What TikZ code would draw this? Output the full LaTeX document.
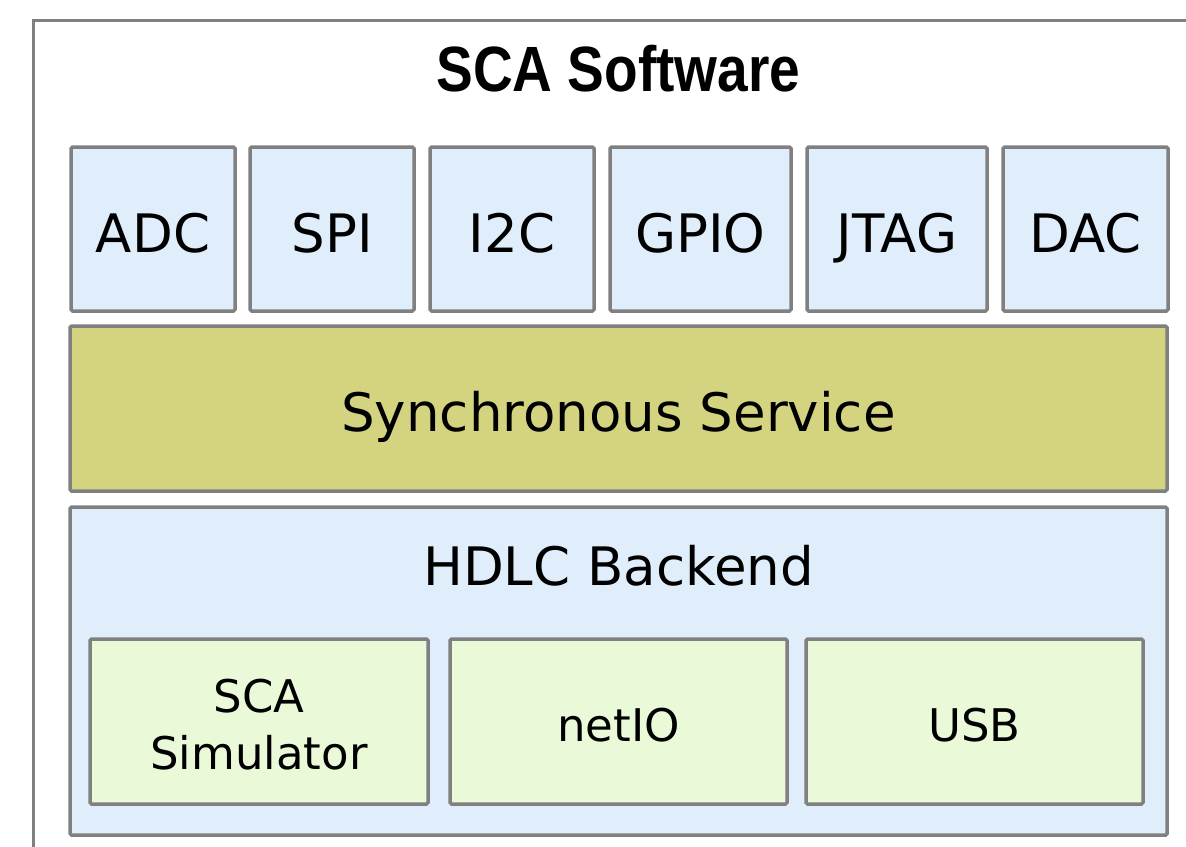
\documentclass[tikz,border=0pt]{standalone}
\usepackage{fontspec}
\setmainfont{DejaVu Sans}
\newfontfamily\titlefont[FakeStretch=0.86]{Liberation Sans}
\definecolor{frame}{HTML}{808080}
\definecolor{paleblue}{HTML}{E0EEFB}
\definecolor{olive}{HTML}{D4D480}
\definecolor{palegreen}{HTML}{EAFAD8}
\tikzset{
  box/.style={draw=frame, line width=3.5pt, rounded corners=1.5pt, inner sep=0pt,
    font=\fontsize{53}{60}\selectfont, text height=46pt, text depth=0pt},
  ifacebox/.style={box, fill=paleblue, minimum height=164pt},
  linkbox/.style={box, fill=palegreen, minimum height=165pt, align=center,
    font=\fontsize{45}{57}\selectfont, text height=39pt},
}
\begin{document}
\begin{tikzpicture}[x=1pt,y=-1pt]
\useasboundingbox (0,0) rectangle (1186,846);
\clip (0,0) rectangle (1186,846);
\fill[white] (0,0) rectangle (1186,846);

% outer frame, running past the page on the right and bottom
\draw[frame, line width=3pt] (33,900) -- (33,20.5) -- (1250,20.5);
\node[font=\titlefont\bfseries\fontsize{64}{70}\selectfont] (title) at (618.5,69) {SCA Software};

% interface modules
\node[ifacebox, minimum width=164pt] (adc)  at (153,229)   {ADC};
\node[ifacebox, minimum width=164pt] (spi)  at (332,229)   {SPI};
\node[ifacebox, minimum width=164pt] (i2c)  at (512,229)   {I2C};
\node[ifacebox, minimum width=181pt] (gpio) at (700.5,229) {GPIO};
\node[ifacebox, minimum width=180pt] (jtag) at (897,229)   {JTAG};
\node[ifacebox, minimum width=165pt] (dac)  at (1085.5,229){DAC};

% service layer
\node[box, fill=olive, minimum width=1097pt, minimum height=165pt] (sync) at (618.5,408.5) {Synchronous Service};

% backend layer
\node[box, fill=paleblue, minimum width=1097pt, minimum height=328pt] (hdlc) at (618.5,671) {};
\node[font=\fontsize{53}{60}\selectfont, inner sep=0pt, anchor=base] (hdlclabel) at (618.5,585) {HDLC Backend};

\node[linkbox, minimum width=338pt] (sim)   at (259,721.5)   {};
\node[font=\fontsize{45}{57}\selectfont, align=center, inner sep=0pt, anchor=base] (simlabel) at (259,769) {SCA\\Simulator};
\node[linkbox, minimum width=337pt] (netio) at (618.5,721.5) {netIO};
\node[linkbox, minimum width=337pt] (usb)   at (974.5,721.5) {USB};
\end{tikzpicture}
\end{document}
